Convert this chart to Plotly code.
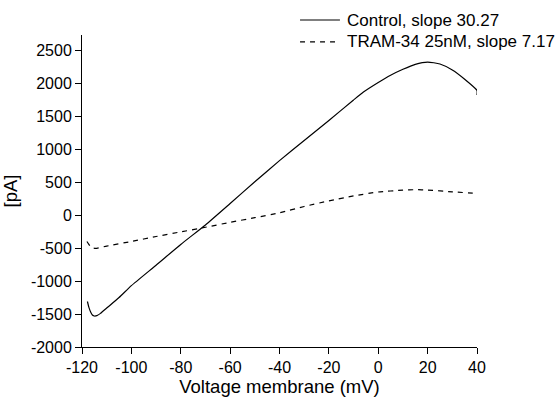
import plotly.graph_objects as go

# Control trace (mV, pA)
control_v = [-117.8, -117.2, -116.5, -115.8, -115.0, -114.0, -112.5, -110, -105, -100,
             -90, -80, -70, -60, -50, -40, -30, -20, -10, -6, 0, 5, 10, 15, 20, 25,
             30, 35, 40, 40]
control_i = [-1310, -1400, -1470, -1515, -1530, -1525, -1490, -1410, -1250, -1070,
             -760, -445, -150, 175, 505, 825, 1130, 1435, 1745, 1865, 2010, 2120, 2210,
             2285, 2320, 2290, 2200, 2060, 1890, 1820]

# TRAM-34 25nM trace (mV, pA)
tram_v = [-118, -117.3, -116.5, -115.5, -114.5, -110, -100, -90, -80, -70, -60, -50,
          -40, -30, -20, -10, 0, 10, 15, 20, 30, 40]
tram_i = [-400, -440, -480, -500, -505, -470, -400, -325, -255, -185, -110, -40,
          35, 130, 215, 290, 350, 378, 385, 380, 352, 330]

names = ["Control, slope 30.27", "TRAM-34 25nM, slope 7.17"]
dashes = ["solid", "5px,5px"]

x_ticks = [-120, -100, -80, -60, -40, -20, 0, 20, 40]
y_ticks = [-2000, -1500, -1000, -500, 0, 500, 1000, 1500, 2000, 2500]

FONT = "Arial, Liberation Sans, sans-serif"

fig = go.Figure()
fig.add_trace(go.Scatter(x=control_v, y=control_i, mode="lines", name=names[0],
                         line=dict(color="black", width=1.2, dash=dashes[0],
                                   shape="spline", smoothing=0.5)))
fig.add_trace(go.Scatter(x=tram_v, y=tram_i, mode="lines", name=names[1],
                         line=dict(color="black", width=1.2, dash=dashes[1],
                                   shape="spline", smoothing=0.5)))

# Manual legend (positions in paper coordinates, above the plot area)
leg_x0, leg_x1, leg_tx = 0.552, 0.653, 0.666
leg_y = [1.048, 0.978]
for name, dash, yy in zip(names, dashes, leg_y):
    fig.add_shape(type="line", xref="paper", yref="paper", x0=leg_x0, x1=leg_x1,
                  y0=yy, y1=yy, line=dict(color="black", width=1.2, dash=dash))
    fig.add_annotation(xref="paper", yref="paper", x=leg_tx, y=yy, text=name,
                       showarrow=False, xanchor="left", yanchor="middle",
                       font=dict(size=17, family=FONT, color="black"))

fig.update_layout(
    width=560, height=399,
    margin=dict(l=82, r=83, t=35, b=52),
    paper_bgcolor="white", plot_bgcolor="white",
    font=dict(family=FONT, color="black", size=16),
    showlegend=False,
)
fig.update_xaxes(range=[-120, 40], tickvals=x_ticks, ticktext=[str(v) for v in x_ticks],
                 showline=True, linecolor="black", linewidth=1, ticks="outside",
                 ticklen=6, tickcolor="black", showgrid=False, zeroline=False,
                 tickfont=dict(size=16), tickangle=0, automargin=False,
                 title=dict(text="Voltage membrane (mV)", font=dict(size=18.5), standoff=4))
fig.update_yaxes(range=[-2000, 2730], tickvals=y_ticks, ticktext=[str(v) for v in y_ticks],
                 showline=True, linecolor="black", linewidth=1, ticks="outside",
                 ticklen=6, tickcolor="black", showgrid=False, zeroline=False,
                 tickfont=dict(size=16), automargin=False,
                 title=dict(text="[pA]", font=dict(size=18.5), standoff=8))

fig.write_html("out.html")
